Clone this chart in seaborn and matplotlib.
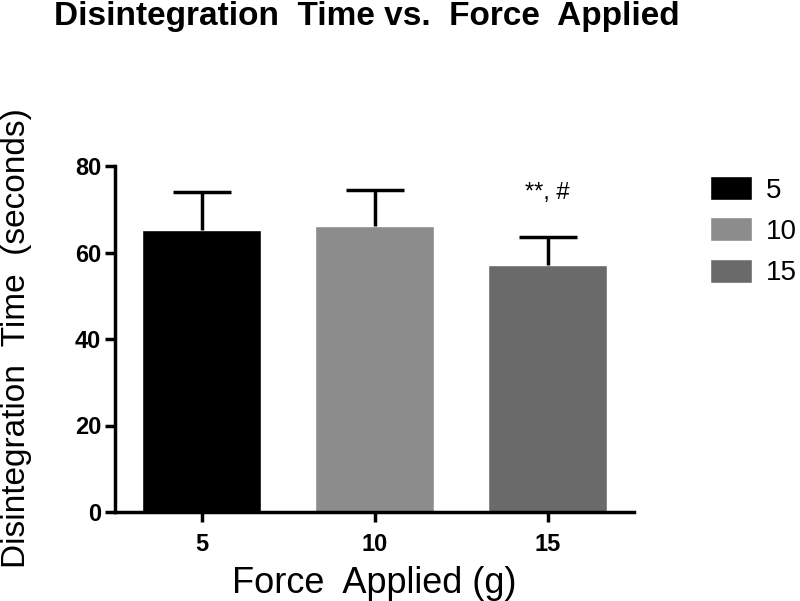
import seaborn as sns
import pandas as pd
from matplotlib import pyplot as plt

# values
forces = ['5', '10', '15']
mean_time = [65.2, 66.1, 57.0]
upper_err = [8.8, 8.4, 6.6]
bar_colors = ['#000000', '#8c8c8c', '#6a6a6a']
sig_labels = ['', '', '**, #']
sig_y = [0, 0, 73.8]

df = pd.DataFrame({'Force': forces, 'Time': mean_time})

sns.set_style('ticks')
plt.rcParams['font.family'] = ['Liberation Sans', 'DejaVu Sans']
plt.rcParams['text.color'] = 'black'
plt.rcParams['axes.labelcolor'] = 'black'
plt.rcParams['xtick.color'] = 'black'
plt.rcParams['ytick.color'] = 'black'

fig = plt.figure(figsize=(8, 6.01), dpi=100)
ax = fig.add_axes([115 / 800, 1 - 512 / 601, 519 / 800, 346 / 601])

sns.barplot(data=df, x='Force', y='Time', hue='Force', palette=bar_colors,
            dodge=False, width=0.69, errorbar=None, legend=True, ax=ax)

# upper error bars only: drop the cap that sits on the bar top
eb = ax.errorbar(range(len(forces)), mean_time, yerr=[[0] * 3, upper_err],
                 fmt='none', ecolor='black', elinewidth=2.5, capsize=21, capthick=2.5)
for cap in eb.lines[1]:
    if list(cap.get_ydata()) == mean_time:
        cap.remove()

for i, (lab, yv) in enumerate(zip(sig_labels, sig_y)):
    if lab:
        ax.text(i, yv, lab, ha='center', va='center', fontsize=17)

ax.set_xlim(-0.5, 2.5)
ax.set_ylim(0, 80)
ax.set_yticks([0, 20, 40, 60, 80])
sns.despine(ax=ax)
for s in ['left', 'bottom']:
    ax.spines[s].set_linewidth(2.5)
    ax.spines[s].set_color('black')
ax.tick_params(width=2.5, length=7, labelsize=17)
ax.tick_params(axis='x', pad=8)
ax.tick_params(axis='y', pad=3)
for t in ax.get_xticklabels() + ax.get_yticklabels():
    t.set_fontweight('bold')

ax.set_xlabel('Force  Applied (g)', fontsize=26, labelpad=7)
ax.set_ylabel('')
fig.text(17 / 800, 1 - 338 / 601, 'Disintegration  Time  (seconds)', rotation=90,
         ha='center', va='center', fontsize=24)

fig.text(54 / 800, 1 - 17 / 601, 'Disintegration  Time vs.  Force  Applied',
         ha='left', va='center', fontsize=24, fontweight='bold')

handles, labels = ax.get_legend_handles_labels()
ax.get_legend().remove()
fig.legend(handles, labels, loc='upper left', bbox_to_anchor=(710 / 800, 1 - 176 / 601),
           frameon=False, fontsize=20, handlelength=1.5, handleheight=0.95,
           handletextpad=0.5, labelspacing=0.5, borderpad=0, borderaxespad=0)

fig.savefig('out.png', dpi=100)
